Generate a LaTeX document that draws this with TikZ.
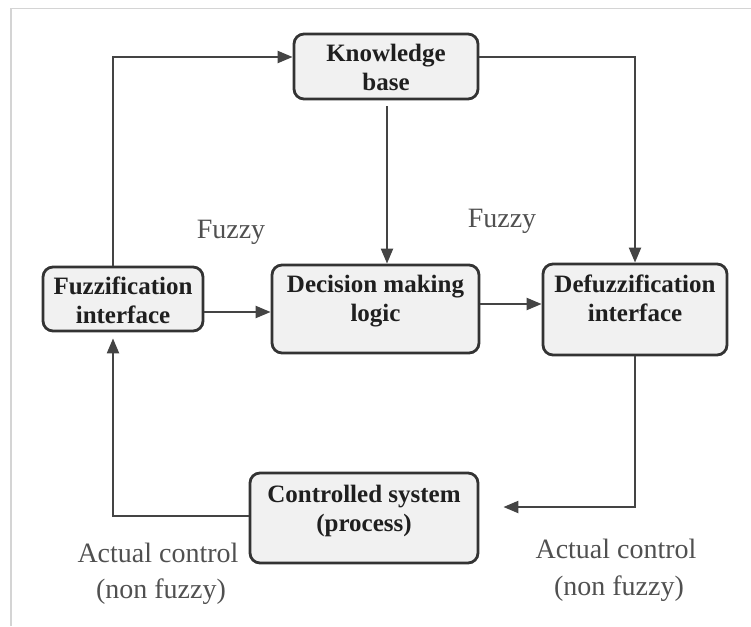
\documentclass[tikz,border=0pt]{standalone}
\usepackage{fontspec}
\setmainfont{Liberation Serif}
\usetikzlibrary{arrows.meta,calc}
\definecolor{boxfill}{HTML}{F1F1F1}
\definecolor{boxline}{HTML}{333333}
\definecolor{conncol}{HTML}{444444}
\definecolor{labcol}{HTML}{505050}
\definecolor{framecol}{HTML}{D4D4D4}
\tikzset{
  box/.style={draw=boxline, fill=boxfill, line width=2.8pt, rounded corners=10pt, inner sep=0pt},
  boxtext/.style={align=center, text=black!88, font=\fontsize{25}{29}\selectfont\bfseries, inner sep=0pt},
  lab/.style={anchor=base, text=labcol, font=\fontsize{28}{36}\selectfont, inner sep=0pt},
  conn/.style={draw=conncol, line width=2.2pt},
  arr/.style={conn, -{Triangle[length=15pt,width=12pt]}}
}
\begin{document}
\begin{tikzpicture}[x=1pt,y=-1pt]
\useasboundingbox (0,0) rectangle (751,626);
% frame
\draw[framecol, line width=1.4pt] (11,626) -- (11,8.5) -- (751,8.5);
% boxes
\node[box, minimum width=184pt, minimum height=65pt] (kb) at (386,66.5) {};
\node[boxtext, text depth=0pt] (kbt) at (386,67.5) {Knowledge\\base};
\node[box, minimum width=160pt, minimum height=64pt] (fz) at (123,299) {};
\node[boxtext] (fzt) at (123,300) {Fuzzification\\interface};
\node[box, minimum width=207pt, minimum height=88pt] (dm) at (375.5,309) {};
\node[boxtext] (dmt) at (375.5,301.5) {Decision making\\logic};
\node[box, minimum width=184pt, minimum height=91pt] (df) at (635,309.5) {};
\node[boxtext] (dft) at (635,298) {Defuzzification\\interface};
\node[box, minimum width=228pt, minimum height=90pt] (cs) at (364,518) {};
\node[boxtext] (cst) at (364,511) {Controlled system\\(process)};
% labels
\node[lab] (fl1) at (231,238) {Fuzzy};
\node[lab] (fl2) at (502,227) {Fuzzy};
\node[lab] (ac1a) at (158,562) {Actual control};
\node[lab] (ac1b) at (161,598) {(non fuzzy)};
\node[lab] (ac2a) at (616,558) {Actual control};
\node[lab] (ac2b) at (619,595) {(non fuzzy)};
% connectors
\draw[arr] ([xshift=-10pt]fz.north) |- ([yshift=9.5pt]kb.west);
\draw[arr] ([yshift=9.5pt]kb.east) -| (df.north);
\draw[arr] ([xshift=1pt,yshift=-6pt]kb.south) -- ([xshift=1pt]kb.south |- dm.north);
\draw[arr] ([yshift=-13pt]fz.east) -- ([yshift=-13pt]fz.east -| dm.west);
\draw[arr] ([yshift=5pt]dm.east) -- ([yshift=5pt]dm.east -| df.west);
\draw[arr] (df.south) |- ([xshift=24pt,yshift=11pt]cs.east);
\draw[arr] ([yshift=2pt]cs.west) -| ([xshift=-10pt,yshift=-6pt]fz.south);
\end{tikzpicture}
\end{document}
